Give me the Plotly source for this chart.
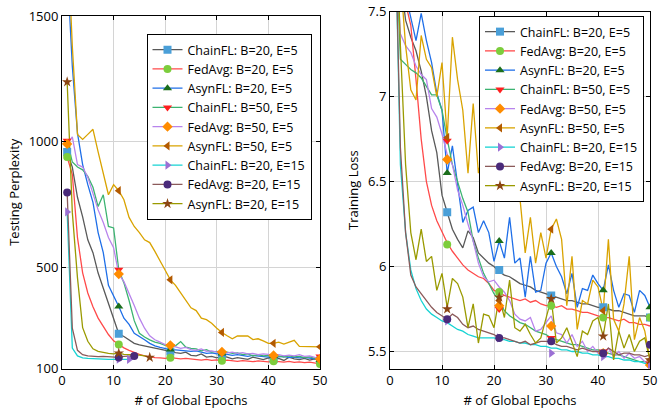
import plotly.graph_objects as go

epochs = list(range(1, 51))

names = ["ChainFL: B=20, E=5", "FedAvg: B=20, E=5", "AsynFL: B=20, E=5",
         "ChainFL: B=50, E=5", "FedAvg: B=50, E=5", "AsynFL: B=50, E=5",
         "ChainFL: B=20, E=15", "FedAvg: B=20, E=15", "AsynFL: B=20, E=15"]

# ---------- Testing perplexity (left) ----------
ppl_chain_b20_e5 = [960, 900, 780, 702, 611, 560, 479, 420, 361, 301, 238, 227, 215, 200, 194, 190, 185, 180, 178, 175,
                    168, 163, 160, 165, 152, 150, 158, 145, 148, 142, 150, 145, 138, 143, 140, 136, 145, 140, 135, 142,
                    138, 140, 132, 145, 138, 135, 140, 133, 138, 132]
ppl_fedavg_b20_e5 = [940, 870, 620, 480, 400, 345, 300, 265, 235, 210, 195, 182, 172, 163, 156, 150, 146, 143, 142, 140,
                     143, 140, 138, 140, 137, 135, 133, 136, 132, 134, 131, 133, 130, 128, 131, 129, 127, 130, 128, 126,
                     129, 127, 125, 128, 124, 126, 123, 125, 121, 118]
ppl_asyn_b20_e5 = [1700, 1300, 1035, 910, 830, 760, 640, 560, 430, 390, 346, 300, 275, 240, 228, 214, 200, 190, 184, 178,
                   175, 174, 172, 170, 168, 170, 165, 160, 162, 158, 160, 155, 152, 155, 150, 148, 152, 150, 148, 145,
                   150, 146, 148, 143, 145, 142, 144, 140, 138, 135]
ppl_chain_b50_e5 = [1005, 920, 900, 889, 863, 820, 743, 790, 664, 658, 492, 440, 370, 290, 240, 225, 214, 205, 200, 192,
                    188, 190, 207, 185, 180, 178, 170, 175, 165, 168, 162, 165, 160, 162, 155, 158, 150, 155, 150, 152,
                    148, 150, 145, 150, 146, 148, 143, 146, 140, 148]
ppl_fedavg_b50_e5 = [992, 1020, 910, 900, 860, 790, 730, 680, 620, 580, 475, 445, 400, 350, 300, 260, 230, 214, 205, 195,
                     192, 185, 180, 184, 175, 172, 178, 168, 170, 165, 166, 162, 165, 160, 163, 158, 160, 155, 158, 156,
                     152, 155, 150, 153, 150, 155, 148, 150, 145, 138]
ppl_asyn_b50_e5 = [1850, 1380, 1030, 1010, 1030, 1050, 960, 870, 790, 830, 806, 770, 700, 664, 640, 611, 600, 565, 530, 490,
                   452, 430, 400, 370, 341, 330, 300, 294, 280, 260, 243, 230, 218, 229, 229, 229, 215, 218, 210, 200,
                   200, 205, 197, 205, 212, 188, 188, 187, 186, 186]
ppl_chain_b20_e15 = [722, 181, 150, 142, 140, 138, 137, 137, 136, 136, 137, 136, 136]
ppl_fedavg_b20_e15 = [799, 260, 172, 155, 150, 148, 147, 148, 147, 146, 144, 148, 150, 150]
ppl_asyn_b20_e15 = [1238, 720, 460, 262, 208, 178, 168, 163, 160, 158, 161, 156, 155, 155, 153, 150, 144]

ppl_series = [ppl_chain_b20_e5, ppl_fedavg_b20_e5, ppl_asyn_b20_e5, ppl_chain_b50_e5, ppl_fedavg_b50_e5,
              ppl_asyn_b50_e5, ppl_chain_b20_e15, ppl_fedavg_b20_e15, ppl_asyn_b20_e15]

# ---------- Training loss (right) ----------
loss_chain_b20_e5 = [8.0, 7.7, 7.45, 7.35, 7.27, 7.15, 7.0, 6.8, 6.67, 6.42, 6.32, 6.22, 6.16, 6.11, 6.21, 6.17, 6.08, 6.05,
                     6.02, 6.0, 5.97, 5.95, 5.94, 5.92, 5.9, 5.89, 5.88, 5.86, 5.85, 5.84, 5.83, 5.82, 5.81, 5.8, 5.8,
                     5.79, 5.78, 5.78, 5.77, 5.76, 5.76, 5.75, 5.74, 5.74, 5.73, 5.72, 5.71, 5.71, 5.71, 5.70]
loss_fedavg_b20_e5 = [8.2, 7.8, 7.55, 7.42, 7.1, 6.75, 6.5, 6.36, 6.27, 6.2, 6.14, 6.09, 6.05, 6.01, 5.98, 5.96, 5.94,
                      5.93, 5.9, 5.86, 5.85, 5.83, 5.82, 5.81, 5.8, 5.81, 5.79, 5.8, 5.78, 5.77, 5.77, 5.76, 5.77, 5.75,
                      5.75, 5.74, 5.73, 5.73, 5.72, 5.71, 5.70, 5.70, 5.69, 5.68, 5.69, 5.67, 5.67, 5.66, 5.66, 5.65]
loss_asyn_b20_e5 = [8.3, 7.9, 7.6, 7.47, 7.33, 7.49, 7.33, 7.2, 7.02, 6.92, 6.55, 6.71, 6.5, 6.26, 6.33, 6.35, 6.2, 6.27,
                    6.2, 6.03, 6.15, 6.05, 6.29, 6.02, 6.05, 5.82, 6.06, 5.85, 5.86, 6.02, 6.08, 6.0, 5.94, 5.84, 5.96,
                    5.76, 5.87, 5.86, 5.95, 5.9, 5.86, 6.01, 5.86, 5.76, 5.84, 5.83, 5.73, 5.86, 5.83, 5.76]
loss_chain_b50_e5 = [8.0, 7.22, 7.19, 7.16, 7.14, 7.11, 7.06, 7.01, 7.01, 6.92, 6.75, 6.6, 6.5, 6.4, 6.32, 6.15, 6.05,
                     5.96, 5.9, 5.84, 5.8, 5.74, 5.71, 5.69, 5.67, 5.66, 5.64, 5.62, 5.61, 5.6, 5.58, 5.57, 5.56, 5.55,
                     5.54, 5.54, 5.53, 5.52, 5.51, 5.51, 5.5, 5.49, 5.48, 5.48, 5.47, 5.46, 5.45, 5.44, 5.44, 5.43]
loss_fedavg_b50_e5 = [7.9, 7.37, 7.3, 7.26, 7.18, 7.13, 7.1, 6.93, 6.88, 6.78, 6.66, 6.6, 6.45, 6.36, 6.25, 6.15, 6.02,
                      5.94, 5.91, 5.92, 5.88, 5.85, 5.8, 5.72, 5.69, 5.68, 5.7, 5.62, 5.63, 5.67, 5.71, 5.61, 5.6, 5.55,
                      5.6, 5.53, 5.56, 5.5, 5.53, 5.49, 5.48, 5.52, 5.47, 5.5, 5.46, 5.49, 5.46, 5.47, 5.44, 5.42]
loss_asyn_b50_e5 = [8.5, 7.7, 7.3, 7.04, 6.98, 7.36, 7.22, 7.17, 7.0, 7.2, 6.76, 7.35, 7.1, 6.92, 6.55, 6.96, 6.55, 6.7,
                    6.6, 6.71, 6.5, 6.62, 6.75, 6.5, 6.4, 6.08, 6.29, 6.02, 6.2, 6.05, 6.22, 6.28, 6.16, 5.77, 6.06,
                    5.63, 5.8, 5.78, 5.92, 5.88, 5.74, 6.16, 5.69, 5.62, 5.78, 6.06, 5.57, 5.7, 5.62, 5.45]
loss_chain_b20_e15 = [8.0, 6.6, 6.2, 5.98, 5.87, 5.8, 5.75, 5.72, 5.7, 5.68, 5.67, 5.65, 5.63, 5.62, 5.6, 5.59, 5.58, 5.58,
                      5.58, 5.58, 5.57, 5.57, 5.56, 5.56, 5.55, 5.55, 5.54, 5.54, 5.53, 5.53, 5.52, 5.52, 5.51, 5.51,
                      5.5, 5.5, 5.49, 5.49, 5.48, 5.48, 5.47, 5.47, 5.46, 5.46, 5.45, 5.45, 5.44, 5.44, 5.43, 5.43]
loss_fedavg_b20_e15 = [8.0, 6.7, 6.2, 5.95, 5.88, 5.84, 5.8, 5.76, 5.73, 5.71, 5.69, 5.72, 5.7, 5.66, 5.64, 5.65, 5.63,
                       5.62, 5.61, 5.6, 5.58, 5.58, 5.57, 5.56, 5.55, 5.56, 5.54, 5.55, 5.56, 5.56, 5.56, 5.54, 5.53,
                       5.53, 5.52, 5.51, 5.52, 5.51, 5.5, 5.5, 5.49, 5.52, 5.5, 5.48, 5.49, 5.49, 5.48, 5.48, 5.47, 5.48]
loss_asyn_b20_e15 = [8.2, 7.3, 6.6, 6.2, 6.04, 6.22, 6.03, 6.06, 5.86, 5.96, 5.76, 5.93, 5.9, 5.82, 5.64, 5.78, 5.55,
                     5.72, 5.71, 5.64, 5.82, 5.7, 5.92, 5.64, 5.62, 5.66, 5.6, 5.55, 5.58, 5.7, 5.81, 5.55, 5.58, 5.64,
                     5.56, 5.47, 5.62, 5.6, 5.68, 5.7, 5.59, 5.78, 5.45, 5.62, 5.52, 5.6, 5.5, 5.56, 5.58, 5.45]

loss_series = [loss_chain_b20_e5, loss_fedavg_b20_e5, loss_asyn_b20_e5, loss_chain_b50_e5, loss_fedavg_b50_e5,
               loss_asyn_b50_e5, loss_chain_b20_e15, loss_fedavg_b20_e15, loss_asyn_b20_e15]

# marker positions (epochs) and marker values on the loss panel
loss_marker_epochs = [11, 21, 31, 41, 50]
loss_markers = [
    [6.32, 5.98, 5.83, 5.76, 5.70],
    [6.13, 5.85, 5.77, 5.70, 5.70],
    [6.55, 6.15, 6.08, 5.86, 5.76],
    [6.74, 5.75, 5.58, 5.50, 5.43],
    [6.63, 5.77, 5.65, 5.49, 5.42],
    [6.76, 5.80, 6.22, 5.74, 5.45],
    [5.68, 5.58, 5.49, 5.47, 5.42],
    [5.69, 5.58, 5.56, 5.49, 5.54],
    [5.75, 5.82, 5.81, 5.59, 5.45],
]

# ---------- styles ----------
line_colors = ["#595959", "#ff4a4a", "#1f6fe8", "#3cb371", "#b884ec", "#d9a300", "#16d3d3", "#8b5a5a", "#9a9a00"]
marker_colors = ["#4a9fd8", "#7ccd3c", "#1b6e1b", "#ff1f1f", "#ff8c00", "#b35a00", "#9b6fd4", "#4a2a7a", "#8b4513"]
symbols = ["square", "circle", "triangle-up", "triangle-down", "diamond", "triangle-left", "triangle-right",
           "circle", "star"]

fig = go.Figure()

for i, ys in enumerate(ppl_series):
    xs = epochs[:len(ys)]
    fig.add_trace(go.Scatter(x=xs, y=ys, mode="lines", line=dict(color=line_colors[i], width=1.3),
                             showlegend=False, xaxis="x", yaxis="y", hoverinfo="skip"))
for i, ys in enumerate(ppl_series):
    n = len(ys)
    mk_x = [e for e in [1, 11, 21, 31, 41, 50] if e < n] + [n] if n < 50 else [1, 11, 21, 31, 41, 50]
    mk_y = [ys[e - 1] for e in mk_x]
    fig.add_trace(go.Scatter(x=mk_x, y=mk_y, mode="markers",
                             marker=dict(color=marker_colors[i], symbol=symbols[i], size=8,
                                         line=dict(width=0)),
                             showlegend=False, xaxis="x", yaxis="y", cliponaxis=True))
    fig.add_trace(go.Scatter(x=[None], y=[None], mode="lines+markers", name=names[i],
                             line=dict(color=line_colors[i], width=1.3),
                             marker=dict(color=marker_colors[i], symbol=symbols[i], size=8, line=dict(width=0)),
                             legend="legend", xaxis="x", yaxis="y"))

for i, ys in enumerate(loss_series):
    fig.add_trace(go.Scatter(x=epochs, y=ys, mode="lines", line=dict(color=line_colors[i], width=1.3),
                             showlegend=False, xaxis="x2", yaxis="y2", hoverinfo="skip"))
for i, ms in enumerate(loss_markers):
    fig.add_trace(go.Scatter(x=loss_marker_epochs, y=ms, mode="markers",
                             marker=dict(color=marker_colors[i], symbol=symbols[i], size=8, line=dict(width=0)),
                             showlegend=False, xaxis="x2", yaxis="y2", cliponaxis=True))
    fig.add_trace(go.Scatter(x=[None], y=[None], mode="lines+markers", name=names[i],
                             line=dict(color=line_colors[i], width=1.3),
                             marker=dict(color=marker_colors[i], symbol=symbols[i], size=8, line=dict(width=0)),
                             legend="legend2", xaxis="x2", yaxis="y2"))

W, H = 658, 409
font_family = "Open Sans, Noto Sans, sans-serif"
axis_common = dict(showline=True, linecolor="black", linewidth=1, mirror="ticks", ticks="inside",
                   ticklen=4, tickcolor="black", showgrid=True, gridcolor="#d4d4d4", gridwidth=1,
                   zeroline=False, automargin=False, tickfont=dict(size=13, color="black"))

fig.update_layout(
    width=W, height=H, margin=dict(l=0, r=0, t=0, b=0),
    paper_bgcolor="white", plot_bgcolor="white",
    font=dict(family=font_family, color="black", size=12),
    xaxis=dict(domain=[62 / W, 320 / W], range=[0, 50], tickvals=[0, 10, 20, 30, 40, 50], anchor="y",
               title=dict(text="# of Global Epochs", font=dict(size=13), standoff=8), **axis_common),
    yaxis=dict(domain=[1 - 368.5 / H, 1 - 16 / H], range=[100, 1500], tickvals=[100, 500, 1000, 1500],
               anchor="x", title=dict(text="Testing Perplexity", font=dict(size=13), standoff=6), **axis_common),
    xaxis2=dict(domain=[390 / W, 650 / W], range=[0, 50], tickvals=[0, 10, 20, 30, 40, 50], anchor="y2",
                title=dict(text="# of Global Epochs", font=dict(size=13), standoff=8), **axis_common),
    yaxis2=dict(domain=[1 - 368.5 / H, 1 - 11.7 / H], range=[5.4, 7.5], tickvals=[5.5, 6, 6.5, 7, 7.5],
                ticktext=["5.5", "6", "6.5", "7", "7.5"], anchor="x2",
                title=dict(text="Training Loss", font=dict(size=13), standoff=6), **axis_common),
    legend=dict(x=146.5 / W, y=1 - 34 / H, xanchor="left", yanchor="top", bgcolor="white",
                bordercolor="black", borderwidth=1, font=dict(size=12.5), tracegroupgap=0,
                itemwidth=30),
    legend2=dict(x=479 / W, y=1 - 16 / H, xanchor="left", yanchor="top", bgcolor="white",
                 bordercolor="black", borderwidth=1, font=dict(size=12.5), tracegroupgap=0,
                 itemwidth=30),
)

fig.write_html("out.html")
